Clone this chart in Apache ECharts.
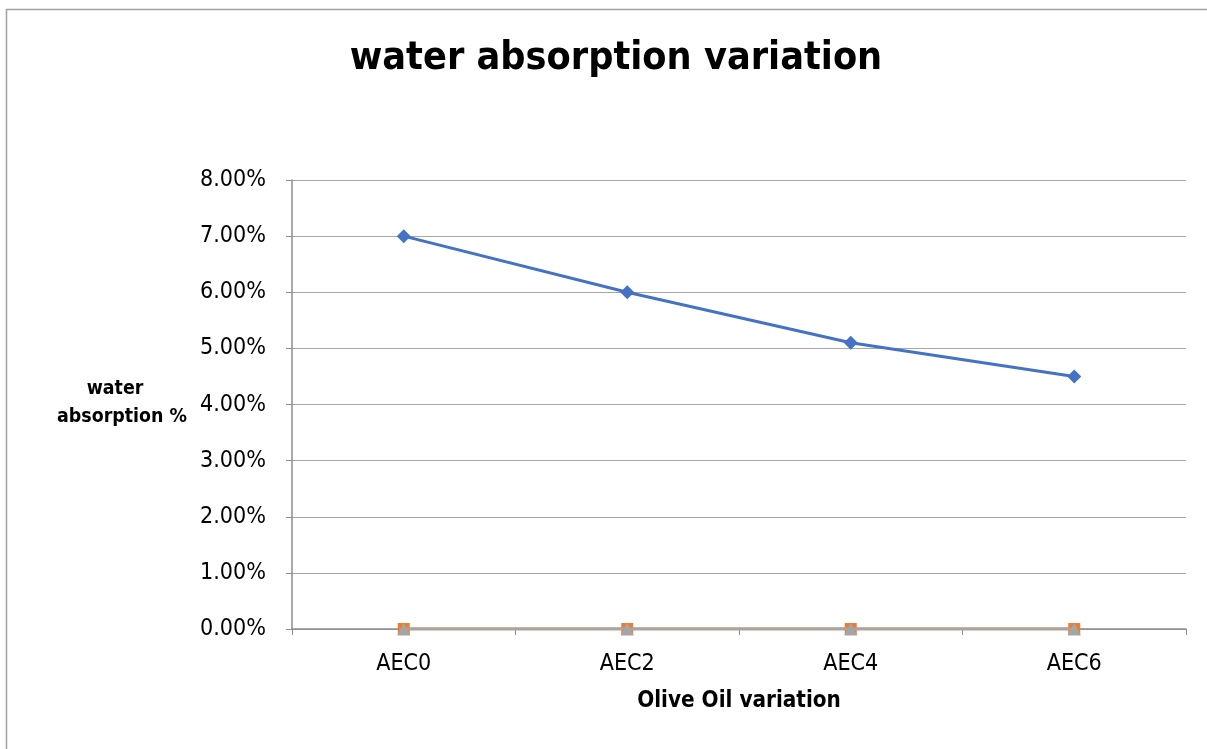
<!DOCTYPE html>
<html><head><meta charset="utf-8">
<script src="https://cdn.jsdelivr.net/npm/echarts@6/dist/echarts.min.js"></script>
<style>html,body{margin:0;padding:0;background:#fff}#c{width:1207px;height:749px}</style>
</head><body><div id="c"></div>
<script>
const categories = ['AEC0', 'AEC2', 'AEC4', 'AEC6'];
const series1 = [7.0, 6.0, 5.1, 4.5];
const series2 = [0, 0, 0, 0];
const series3 = [0, 0, 0, 0];
const yTicks = { min: 0, max: 8, interval: 1 };
const xAxisName = 'Olive Oil variation';
const yAxisNameLines = ['water', 'absorption %'];

// pick the first installed narrow-ish font
const ctx = document.createElement('canvas').getContext('2d');
function w(font, text) { ctx.font = font; return ctx.measureText(text).width; }
const candidates = ['Liberation Sans Narrow', 'DejaVu Sans Condensed', 'Lato', 'Liberation Sans'];
let fam = 'sans-serif';
for (const c of candidates) {
  const s = 'abcdefghijklmnop 8.00% AEC';
  if (w('100px "' + c + '", monospace', s) !== w('100px monospace', s)) { fam = '"' + c + '"'; break; }
}
const FONT = fam + ', sans-serif';
function fit(text, weight, target) { return Math.round(100 * target / w(weight + ' 100px ' + FONT, text) * 10) / 10; }
const titleSize = fit('water absorption variation', 'bold', 532);
const tickSize = fit('8.00%', 'normal', 66);
const nameSize = fit(xAxisName, 'bold', 204);
const yNameSize = fit(yAxisNameLines[1], 'bold', 130);

const nameStyle = (size) => ({ fontFamily: FONT, fontWeight: 'bold', fontSize: size, fill: '#000', textAlign: 'center', textVerticalAlign: 'middle' });

const chart = echarts.init(document.getElementById('c'));
chart.setOption({
  animation: false,
  textStyle: { fontFamily: FONT },
  title: {
    text: 'water absorption variation', left: 611, top: 58 - titleSize * 0.6, textAlign: 'center',
    textStyle: { fontFamily: FONT, fontWeight: 'bold', fontSize: titleSize, color: '#000' }
  },
  graphic: [
    { type: 'rect', shape: { x: 6.5, y: 9.5, width: 1220, height: 760 }, style: { fill: 'none', stroke: '#a0a0a0', lineWidth: 1.5 }, silent: true },
    { type: 'text', x: 739, y: 701, style: Object.assign({ text: xAxisName }, nameStyle(nameSize)) },
    { type: 'text', x: 115, y: 389, style: Object.assign({ text: yAxisNameLines[0] }, nameStyle(yNameSize)) },
    { type: 'text', x: 122, y: 417, style: Object.assign({ text: yAxisNameLines[1] }, nameStyle(yNameSize)) }
  ],
  grid: { left: 292, right: 21, top: 180, bottom: 120 },
  xAxis: {
    type: 'category', data: categories, boundaryGap: true,
    axisLine: { lineStyle: { color: '#8c8c8c', width: 1.5 } },
    axisTick: { show: true, alignWithLabel: false, length: 6, lineStyle: { color: '#8c8c8c' } },
    axisLabel: { margin: 23, fontSize: tickSize, color: '#000', fontFamily: FONT }
  },
  yAxis: {
    type: 'value', min: yTicks.min, max: yTicks.max, interval: yTicks.interval,
    axisLine: { show: true, lineStyle: { color: '#8c8c8c', width: 1.5 } },
    axisTick: { show: true, length: 6, lineStyle: { color: '#8c8c8c' } },
    splitLine: { lineStyle: { color: '#a6a6a6', width: 1 } },
    axisLabel: { margin: 26, fontSize: tickSize, color: '#000', fontFamily: FONT, formatter: v => v.toFixed(2) + '%' }
  },
  series: [
    { name: 'S1', type: 'line', data: series1, symbol: 'diamond', symbolSize: 14, lineStyle: { color: '#4472c4', width: 3 }, itemStyle: { color: '#4472c4' }, z: 5 },
    { name: 'S2', type: 'line', data: series2, symbol: 'rect', symbolSize: 12, lineStyle: { color: '#ed7d31', width: 3 }, itemStyle: { color: '#ed7d31' }, z: 3 },
    { name: 'S3', type: 'line', data: series3, symbol: 'triangle', symbolSize: 13, lineStyle: { color: '#a5a5a5', width: 3 }, itemStyle: { color: '#a5a5a5' }, z: 4 }
  ]
});
</script></body></html>
